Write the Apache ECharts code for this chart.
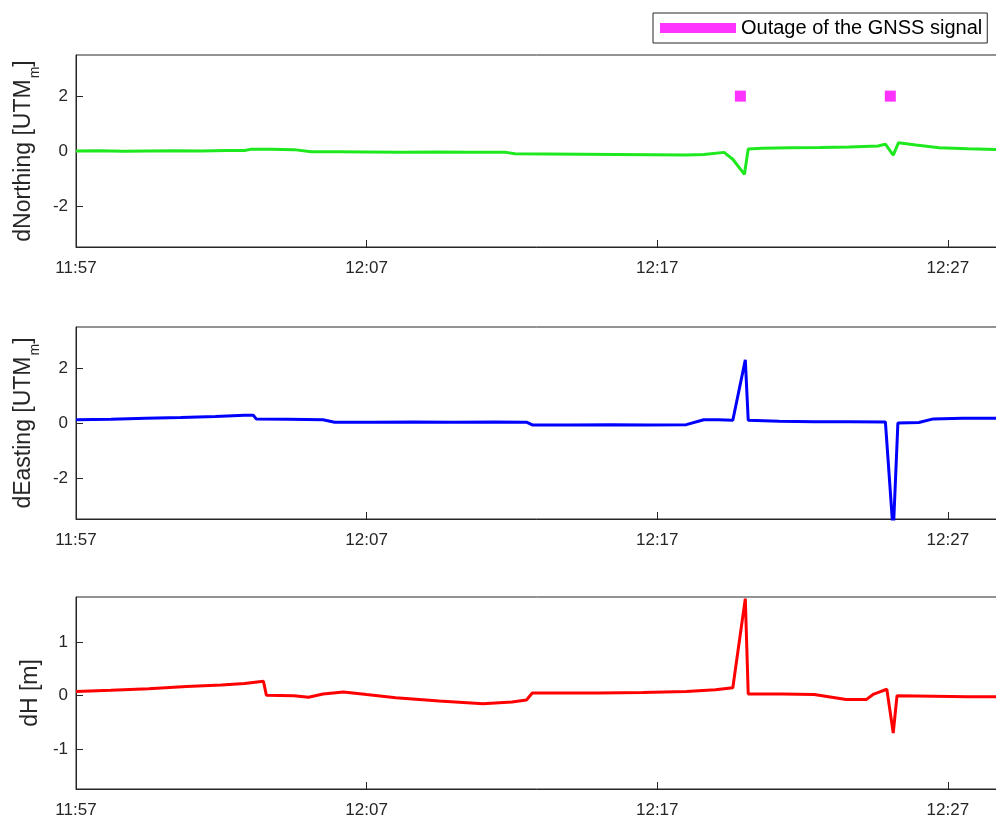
<!DOCTYPE html>
<html>
<head>
<meta charset="utf-8">
<script src="https://cdn.jsdelivr.net/npm/echarts@6/dist/echarts.min.js"></script>
<style>
  html, body { margin: 0; padding: 0; background: #fff; }
  #chart { width: 996px; height: 824px; }
</style>
</head>
<body>
<div id="chart"></div>
<script>
// Time is stored as minutes after 11:57.
const startHour = 11, startMinute = 57;
const timeTickMinutes = [0, 10, 20, 30];

// dNorthing [UTM_m]
const northing = [
  [0, 0.0], [0.8, 0.01], [1.6, -0.01], [2.5, 0.0], [3.4, 0.01], [4.3, 0.0], [5.2, 0.02],
  [5.8, 0.02], [6.0, 0.06], [6.7, 0.06], [7.5, 0.05], [8.1, -0.03], [9.0, -0.03],
  [10.0, -0.04], [11.2, -0.05], [12.4, -0.04], [13.6, -0.05], [14.8, -0.05], [15.1, -0.1],
  [16.2, -0.11], [17.4, -0.12], [18.6, -0.13], [19.8, -0.14], [21.0, -0.15], [21.6, -0.13],
  [22.3, -0.05], [22.6, -0.3], [23.0, -0.85], [23.13, 0.07], [23.6, 0.1], [24.6, 0.12],
  [25.6, 0.13], [26.6, 0.15], [27.6, 0.18], [27.85, 0.25], [28.12, -0.15], [28.3, 0.3],
  [28.9, 0.22], [29.7, 0.12], [30.7, 0.08], [32, 0.05]
];

// dEasting [UTM_m]
const easting = [
  [0, 0.12], [1.2, 0.14], [2.4, 0.17], [3.6, 0.2], [4.8, 0.24], [5.8, 0.28], [6.1, 0.28],
  [6.2, 0.15], [7.3, 0.14], [8.5, 0.12], [8.9, 0.03], [10.2, 0.03], [11.6, 0.04],
  [13.0, 0.03], [14.4, 0.04], [15.5, 0.03], [15.7, -0.07], [17.0, -0.07], [18.4, -0.06],
  [19.7, -0.07], [21.0, -0.06], [21.6, 0.12], [22.1, 0.12], [22.6, 0.1], [23.03, 2.3],
  [23.13, 0.1], [24.2, 0.06], [25.4, 0.05], [26.6, 0.05], [27.85, 0.04], [28.12, -4.0],
  [28.28, 0.0], [29.0, 0.02], [29.5, 0.15], [30.5, 0.17], [32, 0.17]
];

// dH [m]
const height = [
  [0, 0.08], [1.2, 0.1], [2.5, 0.13], [3.8, 0.17], [5.0, 0.2], [5.8, 0.23], [6.45, 0.27],
  [6.55, 0.01], [7.5, 0.0], [8.0, -0.03], [8.5, 0.03], [9.2, 0.07], [10.0, 0.02],
  [11.0, -0.04], [12.5, -0.1], [14.0, -0.15], [15.0, -0.12], [15.5, -0.08], [15.7, 0.05],
  [16.8, 0.05], [18.0, 0.05], [19.5, 0.06], [21.0, 0.08], [22.0, 0.11], [22.6, 0.15],
  [23.03, 1.82], [23.13, 0.03], [24.3, 0.03], [25.4, 0.02], [26.5, -0.07], [27.2, -0.07],
  [27.45, 0.03], [27.9, 0.12], [28.12, -0.7], [28.25, 0.0], [29.5, -0.01], [30.7, -0.02],
  [32, -0.02]
];

// GNSS outage epochs, drawn as markers in the top panel
const outages = [[22.86, 2], [28.02, 2]];

const northTicks = [-2, 0, 2];
const eastTicks = [-2, 0, 2];
const heightTicks = [-1, 0, 1];

const axisColor = '#262626';
const fontFamily = '"Liberation Sans", Arial, Helvetica, sans-serif';

function clockLabel(v) {
  const total = startHour * 60 + startMinute + Math.round(v);
  const h = Math.floor(total / 60), m = total % 60;
  return h + ':' + String(m).padStart(2, '0');
}

const grids = [
  { left: 76, top: 55, width: 930, height: 192 },
  { left: 76, top: 327, width: 930, height: 192 },
  { left: 76, top: 597, width: 930, height: 192 }
].map(g => Object.assign(g, {
  show: true, borderColor: axisColor, borderWidth: 1, backgroundColor: '#fff',
  containLabel: false, outerBoundsMode: 'none'
}));

function xAxis(i) {
  return {
    type: 'value', gridIndex: i, min: 0, max: 32, interval: 10,
    axisLine: { show: true, onZero: false, lineStyle: { color: axisColor } },
    axisTick: { show: true, inside: true, length: 7, lineStyle: { color: axisColor } },
    axisLabel: { color: axisColor, fontSize: 17, fontFamily, margin: 13, formatter: clockLabel,
                 customValues: timeTickMinutes },
    splitLine: { show: false }
  };
}

// Axis titles: main text plus a lowered small "m" for the UTM subscript
const nameRich = {
  a: { fontSize: 23, fontFamily, color: axisColor, lineHeight: 26 },
  s: { fontSize: 14, fontFamily, color: axisColor, lineHeight: 16, padding: [22, 0, 0, 1] }
};

function yAxis(i, min, max, ticks, name, gap) {
  return {
    type: 'value', gridIndex: i, min, max,
    name, nameLocation: 'middle', nameGap: gap,
    nameTextStyle: { rich: nameRich },
    axisLine: { show: true, lineStyle: { color: axisColor } },
    axisTick: { show: true, inside: true, length: 7, customValues: ticks, lineStyle: { color: axisColor } },
    axisLabel: { color: axisColor, fontSize: 17, fontFamily, margin: 8, customValues: ticks },
    splitLine: { show: false }
  };
}

function lineSeries(i, data, color) {
  return {
    type: 'line', xAxisIndex: i, yAxisIndex: i, data,
    showSymbol: false, symbol: 'none', clip: true,
    lineStyle: { color, width: 3 }, silent: true, animation: false
  };
}

const chart = echarts.init(document.getElementById('chart'), null, { renderer: 'canvas' });
chart.setOption({
  animation: false,
  backgroundColor: '#fff',
  grid: grids,
  xAxis: [xAxis(0), xAxis(1), xAxis(2)],
  yAxis: [
    yAxis(0, -3.5, 3.5, northTicks, '{a|dNorthing [UTM}{s|m}{a|]}', 37),
    yAxis(1, -3.5, 3.5, eastTicks, '{a|dEasting [UTM}{s|m}{a|]}', 37),
    yAxis(2, -1.75, 1.85, heightTicks, '{a|dH [m]}', 32)
  ],
  legend: {
    data: [{ name: 'Outage of the GNSS signal', icon: 'rect' }],
    left: 653, top: 13,
    itemWidth: 76, itemHeight: 10,
    padding: [5, 5, 5, 7],
    borderColor: axisColor, borderWidth: 1, backgroundColor: '#fff',
    textStyle: { fontSize: 20, fontFamily, color: '#000', lineHeight: 20 },
    selectedMode: false
  },
  series: [
    lineSeries(0, northing, '#1ee81e'),
    lineSeries(1, easting, '#0000ff'),
    lineSeries(2, height, '#ff0000'),
    {
      name: 'Outage of the GNSS signal', type: 'scatter', xAxisIndex: 0, yAxisIndex: 0,
      data: outages, symbol: 'rect', symbolSize: [11, 11],
      itemStyle: { color: '#ff00ff' }, silent: true
    }
  ]
});
</script>
</body>
</html>
